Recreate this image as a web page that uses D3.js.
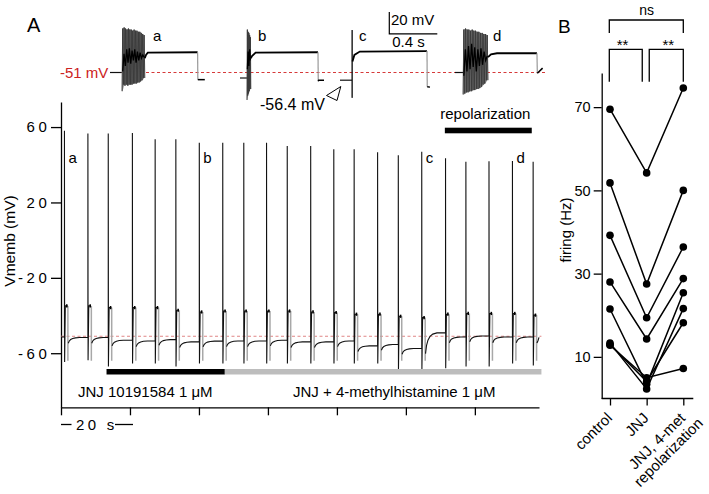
<!DOCTYPE html>
<html><head><meta charset="utf-8">
<script src="https://cdn.jsdelivr.net/npm/d3@7"></script>
<style>
body{margin:0;background:#fff;}
svg{display:block;font-family:"Liberation Sans",Arial,Helvetica,sans-serif;}
</style></head><body>
<svg id="c" width="709" height="494"></svg>
<script>
// ===================== DATA =====================
// Panel A – whole recording (time s, membrane potential mV)
const eventTimes   = [1.0,7.8,13.7,20.7,27.3,33.3,40.1,46.9,53.0,59.6,65.6,72.4,79.1,85.0,91.8,97.8,104.6,111.5,117.4,124.1,130.9,136.9];
const spikePeaks   = [58,56.6,56.6,56.8,53.5,53.5,51.7,51.7,51.7,51.7,49.9,49.9,48.2,48.2,46.6,45.1,46.9,43.4,41.6,41.9,42.0,41.6];
const spikeTroughs = [-64.6,-63.7,-67,-65.5,-65.5,-67,-65.5,-65.5,-65.5,-65.5,-65.5,-65.5,-65.5,-65.5,-65.5,-68.5,-68.5,-68,-67,-67,-65.5,-66.5];
const stepLevels   = [-34.9,-34.9,-35.8,-35.8,-35.8,-37.2,-38.1,-37.6,-37.6,-37.6,-37.6,-38.1,-38.4,-39.3,-39.3,-40.4,-41.1,-39.3,-38.9,-38.9,-38.9,-39.8];
const restStart    = -51.4;
const restAfter    = [-51.7,-51.7,-53.1,-53.5,-52.8,-54,-53.6,-53.5,-53.5,-53.1,-54,-54,-53.5,-56.1,-55.4,-57.5,-49.2,-51.4,-50.9,-51.4,-51.4,-51.6];
const ahpDepth     = [3,3,3,3,3,3,3,3,3,3,3,3,3,3,3,3,11,3,3,3,3,3];
const stepOffLevel = -64;
const ahpTime      = [1.1,1.4,1.8,2.4,3.2,4.4];   // s after event onset
const ahpFrac      = [1,0.6,0.35,0.17,0.06,0];
const refLevel     = -51;                         // dashed line, mV
const yTicksA      = [60,20,-20,-60];
const timeTicks    = [0,20,40,60,80,100,120];
const timeEnd      = 138.6;
const jnjPeriod    = [13.2,47.5];
const metPeriod    = [47.5,139.3];
const repolPeriod  = [111.3,136.5];
const traceLabels  = ['a','b','c','d'];
const traceLabelEvents = [0,6,16,20];

// Panel A – insets a..d (time s from inset start, mV)
const insetPre = [[[0,-51],[0.098,-51]],[[0,-56],[0.058,-56]],[[0,-58],[0.1,-58]],[[0,-51],[0.067,-51]]];
const burstWindow = [[0.1,0.29],[0.058,0.09],[0.101,0.1015],[0.067,0.275]];
const burstPeaks = [
  [-11,-10,-11,-12,-11,-12,-12,-13,-12,-13,-13,-14,-14,-15,-16,-17],
  [-12,-14,-15,-17,-19],
  [-12.4],
  [-12,-11,-12,-12,-13,-12,-13,-13,-14,-14,-15,-15,-16,-16,-17]];
const burstTroughs = [
  [-68,-62,-63,-62,-63,-62,-62,-62,-61,-61,-61,-60,-60,-59,-58,-56],
  [-76,-72,-70,-68,-66],
  [-74],
  [-71,-70,-69,-69,-68,-68,-67,-67,-66,-66,-65,-64,-62,-61,-58]];
const burstCore = [
  [-50,-34,-45,-30,-42,-29,-43,-31,-40,-30,-42,-32,-40,-33,-38,-35,-37],
  [-48,-32,-45,-30,-40],
  [],
  [-54,-30,-50,-27,-48,-25,-46,-28,-50,-30,-45,-29,-44,-32,-40,-36]];
const insetStep = [
  [[0.29,-38],[0.30,-35],[0.315,-33],[0.73,-32.6]],
  [[0.09,-38],[0.1,-36],[0.13,-33],[0.65,-32.6]],
  [[0.104,-41],[0.12,-35],[0.165,-32],[0.725,-31.5]],
  [[0.275,-37],[0.30,-34.5],[0.35,-33.5],[0.683,-33.5]]];
const insetOff = [
  [[0.73,-32.6],[0.732,-57.5]],
  [[0.65,-32.6],[0.652,-59]],
  [[0.725,-31.5],[0.727,-64]],
  [[0.683,-33.5],[0.686,-51.7]]];
const insetTail = [
  [[0.732,-57.5],[0.79,-57.5]],
  [[0.652,-59],[0.656,-58],[0.70,-58]],
  [[0.727,-64],[0.75,-64.3]],
  [[0.686,-51.7],[0.73,-47]]];
const markedLevel = -56.4;

// Panel B – firing rate (Hz) per cell
const categoriesB = [['control'],['JNJ'],['JNJ, 4-met','repolarization']];
const firingControl = [69.5,51.8,39.2,28.0,21.5,13.3,13.0,12.8];
const firingJNJ     = [54.2,27.5,19.4,14.3,3.4,2.3,4.1,5.0];
const firingRepol   = [74.6,50.0,36.4,28.8,25.4,21.6,18.2,7.2];
const yTicksB = [10,30,50,70];

// ===================== DRAW =====================
const svg = d3.select('#c');
const FONT = '"Liberation Sans", Arial, Helvetica, sans-serif';

// ---------- Panel A main ----------
const xA = d3.scaleLinear().domain([0,timeEnd]).range([61,539]);
const yA = d3.scaleLinear().domain([-88.7,73.3]).range([407.3,102]);

function styleAxis(g, fs){
  g.attr('font-family',FONT).attr('font-size',fs);
  g.selectAll('.domain').attr('stroke','#000').attr('stroke-width',1.3);
  g.selectAll('.tick line').attr('stroke','#000').attr('stroke-width',1.3);
  g.selectAll('.tick text').attr('fill','#000');
}

const gyA = svg.append('g').attr('transform',`translate(${xA.range()[0]},0)`)
  .call(d3.axisLeft(yA).tickValues(yTicksA).tickSize(10).tickSizeOuter(0).tickPadding(0.5).tickFormat(d=>String(d)));
styleAxis(gyA,15);
gyA.selectAll('.tick text').attr('letter-spacing','3.6px');

const gxA = svg.append('g').attr('transform',`translate(0,${yA.range()[0]})`)
  .call(d3.axisBottom(xA).tickValues(timeTicks).tickSize(8).tickSizeOuter(0).tickFormat(''));
styleAxis(gxA,15);

svg.append('text').attr('transform',`translate(15,241) rotate(-90)`).attr('text-anchor','middle')
  .attr('font-size',15.5).text('Vmemb (mV)');

// reference dashed line
svg.append('line').attr('x1',xA(0)).attr('x2',xA(metPeriod[1])).attr('y1',yA(refLevel)).attr('y2',yA(refLevel))
  .attr('stroke','#e08585').attr('stroke-width',1).attr('stroke-dasharray','3,2.5');

// build trace
const tracePts = [[0,restStart]];
let prevRest = restStart;
eventTimes.forEach((t0,i)=>{
  tracePts.push([t0,prevRest]);
  tracePts.push([t0,spikePeaks[i]]);
  tracePts.push([t0+0.05,spikeTroughs[i]]);
  tracePts.push([t0+0.25,stepLevels[i]]);
  tracePts.push([t0+0.9,stepLevels[i]]);
  tracePts.push(null);
  const tNext = i<eventTimes.length-1 ? eventTimes[i+1] : timeEnd;
  ahpTime.forEach((dt,k)=>{ if(t0+dt<tNext) tracePts.push([t0+dt, restAfter[i]-ahpDepth[i]*ahpFrac[k]]); });
  prevRest = restAfter[i];
});
tracePts.push([timeEnd,prevRest]);

// gray step-off lines
svg.append('g').selectAll('line').data(eventTimes).join('line')
  .attr('x1',(t)=>xA(t+1.0)).attr('x2',(t)=>xA(t+1.0))
  .attr('y1',(t,i)=>yA(stepLevels[i])).attr('y2',yA(stepOffLevel))
  .attr('stroke','#a8a8a8').attr('stroke-width',1.5);

const lineA = d3.line().defined(d=>d!==null).x(d=>xA(d[0])).y(d=>yA(d[1]));
svg.append('path').datum(tracePts).attr('d',lineA).attr('fill','none')
  .attr('stroke','#111').attr('stroke-width',1.1).attr('stroke-linejoin','miter');

// step "dots"
svg.append('g').selectAll('line').data(eventTimes).join('line')
  .attr('x1',t=>xA(t+0.45)).attr('x2',t=>xA(t+0.9))
  .attr('y1',(t,i)=>yA(stepLevels[i])).attr('y2',(t,i)=>yA(stepLevels[i]))
  .attr('stroke','#000').attr('stroke-width',3.2);

// labels a b c d on trace
svg.append('g').selectAll('text').data(traceLabels).join('text')
  .attr('x',(d,i)=>xA(eventTimes[traceLabelEvents[i]])+4).attr('y',163)
  .attr('font-size',15).text(d=>d);

// drug bars
svg.append('rect').attr('x',xA(jnjPeriod[0])).attr('width',xA(jnjPeriod[1])-xA(jnjPeriod[0]))
  .attr('y',369).attr('height',5.5).attr('fill','#000');
svg.append('rect').attr('x',xA(metPeriod[0])).attr('width',xA(metPeriod[1])-xA(metPeriod[0]))
  .attr('y',369).attr('height',5.5).attr('fill','#bdbdbd');
svg.append('text').attr('x',78).attr('y',397).attr('font-size',15).text('JNJ 10191584 1 \u03bcM');
svg.append('text').attr('x',293).attr('y',397).attr('font-size',15).text('JNJ + 4-methylhistamine 1 \u03bcM');

// repolarization bar
svg.append('rect').attr('x',xA(repolPeriod[0])).attr('width',xA(repolPeriod[1])-xA(repolPeriod[0]))
  .attr('y',127.7).attr('height',5.6).attr('fill','#000');
svg.append('text').attr('x',(xA(repolPeriod[0])+xA(repolPeriod[1]))/2-3).attr('y',119)
  .attr('text-anchor','middle').attr('font-size',15).text('repolarization');

// time scale bar
svg.append('line').attr('x1',61).attr('x2',71.5).attr('y1',424.5).attr('y2',424.5).attr('stroke','#000').attr('stroke-width',1.3);
svg.append('line').attr('x1',115).attr('x2',xA(20)+3).attr('y1',424.5).attr('y2',424.5).attr('stroke','#000').attr('stroke-width',1.3);
svg.append('text').attr('x',76).attr('y',429.5).attr('font-size',15).attr('letter-spacing','3.3px').text('20 s');

// ---------- Insets ----------
const insetX0 = [110,240,340,455];
const yI = d3.scaleLinear().domain([-51,-31]).range([72.5,50.5]);
svg.append('line').attr('x1',113).attr('x2',545).attr('y1',yI(refLevel)).attr('y2',yI(refLevel))
  .attr('stroke','#d63a3a').attr('stroke-width',1).attr('stroke-dasharray','3,2.5');
svg.append('text').attr('x',60).attr('y',77.5).attr('font-size',15).attr('fill','#cc2222').text('-51 mV');

insetX0.forEach((x0,k)=>{
  const xI = d3.scaleLinear().domain([0,1]).range([x0,x0+120]);
  const ln = d3.line().x(d=>xI(d[0])).y(d=>yI(d[1]));
  const g = svg.append('g');
  g.append('path').attr('d',ln(insetPre[k])).attr('fill','none').attr('stroke','#111').attr('stroke-width',1.2);
  // burst
  const w = burstWindow[k], n = burstPeaks[k].length, dt=(w[1]-w[0])/n;
  if(n>1){
    const env = burstPeaks[k].map((pk,i)=>({t:w[0]+(i+0.5)*dt, hi:pk, lo:burstTroughs[k][i]}));
    env.unshift({t:w[0],hi:burstPeaks[k][0],lo:burstTroughs[k][0]});
    env.push({t:w[1],hi:burstPeaks[k][n-1],lo:burstTroughs[k][n-1]});
    const ar = d3.area().x(d=>xI(d.t)).y0(d=>yI(d.lo)).y1(d=>yI(d.hi));
    g.append('path').attr('d',ar(env)).attr('fill','#8a8a8a');
  }
  const bp=[];
  burstPeaks[k].forEach((pk,i)=>{ const t=w[0]+i*dt; bp.push([t,burstTroughs[k][i]]); bp.push([t+dt*0.5,pk]); });
  bp.push([w[1],burstTroughs[k][n-1]]);
  g.append('path').attr('d',ln(bp)).attr('fill','none').attr('stroke',n>1?'#3a3a3a':'#111').attr('stroke-width',0.9);
  if(burstCore[k].length){
    const m=burstCore[k].length, dc=(w[1]-w[0])/m;
    const cp=burstCore[k].map((v,i)=>[w[0]+dc*(i+0.5),v]);
    g.append('path').attr('d',ln(cp)).attr('fill','none').attr('stroke','#000').attr('stroke-width',1.3);
  }
  g.append('path').attr('d',ln(insetStep[k])).attr('fill','none').attr('stroke','#000').attr('stroke-width',1.8);
  g.append('path').attr('d',ln(insetOff[k])).attr('fill','none').attr('stroke','#999').attr('stroke-width',1.2);
  g.append('path').attr('d',ln(insetTail[k])).attr('fill','none').attr('stroke','#000').attr('stroke-width',1.5);
});
const insetLabelX = [153,258,359,493];
svg.append('g').selectAll('text').data(traceLabels).join('text')
  .attr('x',(d,i)=>insetLabelX[i]).attr('y',41).attr('font-size',15).text(d=>d);

// scale bar
svg.append('path').attr('d','M389.3,12 V33.8 H437.3').attr('fill','none').attr('stroke','#000').attr('stroke-width',1.2);
svg.append('text').attr('x',391).attr('y',24.5).attr('font-size',15).text('20 mV');
svg.append('text').attr('x',408.5).attr('y',46.7).attr('text-anchor','middle').attr('font-size',15).text('0.4 s');

// -56.4 mV marker
svg.append('text').attr('x',260).attr('y',110).attr('font-size',16).text(markedLevel+' mV');
svg.append('polygon').attr('points','326.5,95.5 340.8,86.5 337,100.5').attr('fill','#fff').attr('stroke','#000').attr('stroke-width',1);

// panel letters
svg.append('text').attr('x',27).attr('y',32).attr('font-size',20).text('A');
svg.append('text').attr('x',558).attr('y',33).attr('font-size',19).text('B');

// ---------- Panel B ----------
const xB = d3.scalePoint().domain([0,1,2]).range([610,683.3]);
const yB = d3.scaleLinear().domain([0,78.2]).range([398.5,73]);
const axL = 601.7;
const gyB = svg.append('g').attr('transform',`translate(${axL},0)`)
  .call(d3.axisLeft(yB).tickValues(yTicksB).tickSize(8).tickSizeOuter(0).tickPadding(3));
styleAxis(gyB,14.5);
const gxB = svg.append('g').attr('transform',`translate(0,${yB.range()[0]})`)
  .call(d3.axisBottom(xB).tickSize(7).tickSizeOuter(0).tickFormat(''));
styleAxis(gxB,14);
gxB.select('.domain').remove();
svg.append('line').attr('x1',axL).attr('x2',693.3).attr('y1',yB.range()[0]).attr('y2',yB.range()[0])
  .attr('stroke','#000').attr('stroke-width',1.3);

svg.append('text').attr('transform','translate(571,230) rotate(-90)').attr('text-anchor','middle')
  .attr('font-size',15).text('firing (Hz)');

const cells = firingControl.map((c,i)=>[[0,c],[1,firingJNJ[i]],[2,firingRepol[i]]]);
const lineB = d3.line().x(d=>xB(d[0])).y(d=>yB(d[1]));
svg.append('g').selectAll('path').data(cells).join('path').attr('d',lineB)
  .attr('fill','none').attr('stroke','#000').attr('stroke-width',1.5);
svg.append('g').selectAll('circle').data(cells.flat()).join('circle')
  .attr('cx',d=>xB(d[0])).attr('cy',d=>yB(d[1])).attr('r',3.8).attr('fill','#000');

// category labels
categoriesB.forEach((lines,i)=>{
  const g = svg.append('g').attr('transform',`translate(${xB(i)+3},419) rotate(-45)`);
  if(lines.length===1){
    g.append('text').attr('text-anchor','end').attr('font-size',15).text(lines[0]);
  } else {
    const t1 = g.append('text').attr('text-anchor','middle').attr('font-size',15).text(lines[0]);
    const w1 = t1.node().getComputedTextLength();
    t1.attr('x',-w1/2);
    g.append('text').attr('text-anchor','middle').attr('font-size',15).attr('x',-w1/2).attr('y',16).text(lines[1]);
  }
});

// significance brackets
const br = (x1,x2,yTop,yBot)=>svg.append('path').attr('d',`M${x1},${yBot} V${yTop} H${x2} V${yBot}`)
  .attr('fill','none').attr('stroke','#000').attr('stroke-width',1.3);
br(xB(0)-0.7,xB(2),20,33);
br(xB(0)-0.7,xB(1)-4.4,49.3,81.7);
br(xB(1)+2.6,xB(2),49.3,81.7);
svg.append('text').attr('x',(xB(0)+xB(2))/2).attr('y',14.5).attr('text-anchor','middle').attr('font-size',14).text('ns');
svg.append('text').attr('x',622.5).attr('y',50).attr('text-anchor','middle').attr('font-size',15).text('**');
svg.append('text').attr('x',668.3).attr('y',50).attr('text-anchor','middle').attr('font-size',15).text('**');
</script>
</body></html>
